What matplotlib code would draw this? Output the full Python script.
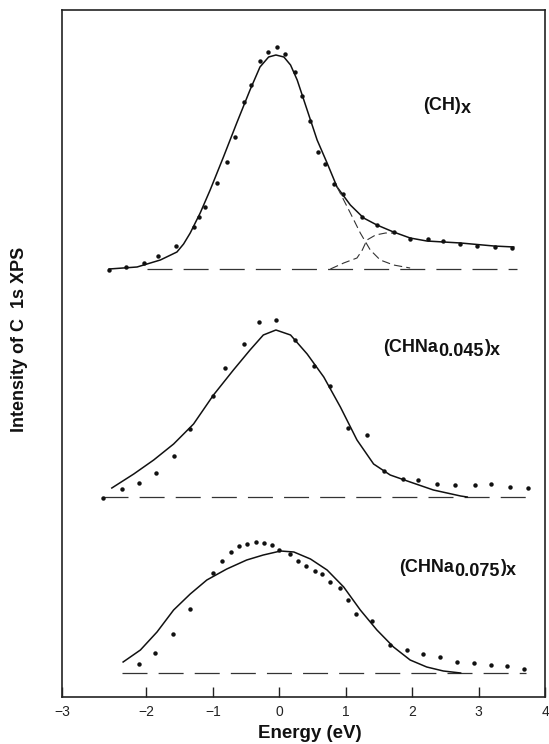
import numpy as np
import matplotlib
matplotlib.use('Agg')
import matplotlib.pyplot as plt

plt.rcParams['font.family'] = ['Liberation Sans', 'DejaVu Sans']
plt.rcParams['lines.scale_dashes'] = False

# (CH)x  - energies (eV) and intensities (arb. units, baseline = 0)
ch_dot_e = [-2.56, -2.30, -2.04, -1.83, -1.56, -1.29, -1.21, -1.12, -0.93, -0.79,
            -0.67, -0.53, -0.42, -0.29, -0.17, -0.04, 0.09, 0.23, 0.34, 0.47,
            0.59, 0.69, 0.83, 0.96, 1.24, 1.47, 1.72, 1.97, 2.24, 2.47,
            2.72, 2.98, 3.25, 3.50]
ch_dot_i = [-1, 2, 6, 13, 23, 42, 52, 62, 86, 107,
            132, 167, 184, 208, 217, 222, 215, 197, 173, 148,
            117, 105, 85, 75, 52, 44, 37, 30, 30, 28,
            25, 23, 22, 21]
ch_fit_e = [-2.56, -2.14, -1.79, -1.54, -1.44, -1.34, -1.19, -1.04, -0.84, -0.64,
            -0.44, -0.29, -0.16, -0.05, 0.07, 0.17, 0.27, 0.42, 0.57, 0.72,
            0.87, 1.07, 1.27, 1.47, 1.72, 1.97, 2.22, 2.73, 3.23, 3.53]
ch_fit_i = [0, 2, 9, 17, 25, 36, 56, 79, 112, 146,
            179, 202, 212, 214, 212, 204, 189, 159, 129, 106,
            82, 64, 51, 44, 37, 31, 28, 26, 23, 22]
ch_main_e = [0.87, 1.07, 1.22, 1.37, 1.52, 1.72, 1.97]
ch_main_i = [82, 56, 36, 19, 9, 4, 1]
ch_sat_e = [0.77, 0.97, 1.17, 1.25, 1.32, 1.45, 1.60, 1.72]
ch_sat_i = [0, 6, 11, 19, 29, 34, 36, 36]

# (CHNa0.045)x
na45_dot_e = [-2.65, -2.37, -2.11, -1.85, -1.58, -1.34, -1.00, -0.82, -0.53, -0.30,
              -0.05, 0.23, 0.52, 0.77, 1.03, 1.32, 1.58, 1.87, 2.09, 2.38,
              2.65, 2.95, 3.19, 3.48, 3.74]
na45_dot_i = [-1, 8, 14, 24, 41, 68, 101, 129, 153, 175,
              177, 157, 131, 111, 69, 62, 26, 18, 17, 13,
              12, 12, 13, 10, 9]
na45_fit_e = [-2.52, -2.19, -1.89, -1.59, -1.29, -0.99, -0.69, -0.44, -0.24, -0.05,
              0.17, 0.42, 0.67, 0.92, 1.17, 1.42, 1.67, 1.97, 2.32, 2.73, 2.83]
na45_fit_i = [9, 23, 37, 53, 73, 102, 127, 147, 162, 167,
              162, 143, 120, 90, 57, 33, 22, 15, 7, 1, 0]

# (CHNa0.075)x
na75_dot_e = [-2.11, -1.87, -1.60, -1.34, -1.00, -0.86, -0.73, -0.60, -0.48, -0.35,
              -0.23, -0.11, 0.00, 0.16, 0.28, 0.40, 0.54, 0.65, 0.76, 0.92,
              1.03, 1.15, 1.39, 1.67, 1.92, 2.17, 2.42, 2.68, 2.93, 3.18,
              3.43, 3.68]
na75_dot_i = [9, 20, 39, 64, 100, 112, 121, 127, 129, 131,
              130, 128, 123, 119, 112, 107, 102, 99, 91, 85,
              73, 59, 52, 28, 23, 19, 16, 11, 10, 8,
              7, 4]
na75_fit_e = [-2.35, -2.09, -1.84, -1.59, -1.34, -1.09, -0.79, -0.49, -0.24, 0.02,
              0.22, 0.47, 0.72, 0.97, 1.22, 1.47, 1.72, 1.97, 2.22, 2.47, 2.73]
na75_fit_i = [11, 23, 41, 63, 79, 93, 104, 113, 118, 122,
              121, 114, 103, 86, 63, 43, 26, 13, 6, 2, 0]

# vertical offsets and baseline extents of the three spectra
offsets = [428, 200, 24]
base_ranges = [(-1.99, 3.58), (-2.65, 3.75), (-2.36, 3.72)]

tick_pos = [-3.27, -2, -1, 0, 1, 2, 3, 4.0]
tick_lbl = ['\u22123', '\u22122', '\u22121', '0', '1', '2', '3', '4']

ink = '#111111'

fig = plt.figure(figsize=(5.49, 7.44), dpi=100)
ax = fig.add_axes([62 / 549, 1 - 697 / 744, 483 / 549, 687 / 744])

def shift(vals, off):
    return np.asarray(vals, dtype=float) + off

# dashed baselines
for off, (x0, x1) in zip(offsets, base_ranges):
    ax.plot([x0, x1], [off, off], color='#333333', lw=0.9, dashes=(18, 8))

# top spectrum
o = offsets[0]
ax.plot(ch_fit_e, shift(ch_fit_i, o), color=ink, lw=1.1)
ax.plot(ch_main_e, shift(ch_main_i, o), color='#333333', lw=0.8, dashes=(6, 3))
ax.plot(ch_sat_e, shift(ch_sat_i, o), color='#333333', lw=0.8, dashes=(6, 3))
ax.plot(ch_dot_e, shift(ch_dot_i, o), 'o', color=ink, ms=3.2, mec='none')

# middle spectrum
o = offsets[1]
ax.plot(na45_fit_e, shift(na45_fit_i, o), color=ink, lw=1.1)
ax.plot(na45_dot_e, shift(na45_dot_i, o), 'o', color=ink, ms=3.2, mec='none')

# bottom spectrum
o = offsets[2]
ax.plot(na75_fit_e, shift(na75_fit_i, o), color=ink, lw=1.1)
ax.plot(na75_dot_e, shift(na75_dot_i, o), 'o', color=ink, ms=3.2, mec='none')

ax.set_xlim(-3.27, 4.0)
ax.set_ylim(0, 687)
ax.set_yticks([])
ax.set_xticks(tick_pos)
ax.set_xticklabels(tick_lbl, fontsize=10)
ax.tick_params(axis='x', direction='in', length=7, width=1.0, pad=6, colors='#222222')
for sp in ax.spines.values():
    sp.set_linewidth(1.2)
    sp.set_color('#222222')


def formula(x, y, parts):
    # parts: (text, vertical shift in points relative to previous piece)
    kw = dict(fontsize=13, fontweight='bold', color=ink)
    t = ax.text(x, y, parts[0][0], ha='left', va='baseline', **kw)
    for s, dy in parts[1:]:
        t = ax.annotate(s, xy=(1, 0), xycoords=t, xytext=(0, dy),
                        textcoords='offset points', ha='left', va='bottom', **kw)


formula(2.17, 587, [('(CH)', 0), ('x', -2.5)])
formula(1.57, 345, [('(CHNa', 0), ('0.045', -3), (')', 3), ('x', -2.5)])
formula(1.81, 125, [('(CHNa', 0), ('0.075', -3), (')', 3), ('x', -2.5)])

fig.text(20 / 549, 1 - 339 / 744, 'Intensity of C  1s XPS', rotation=90,
         ha='center', va='center', fontsize=13, fontweight='bold', color=ink)
fig.text(310 / 549, 1 - 733 / 744, 'Energy (eV)', ha='center', va='center',
         fontsize=13.5, fontweight='bold', color=ink)

fig.savefig('out.png', dpi=100)
